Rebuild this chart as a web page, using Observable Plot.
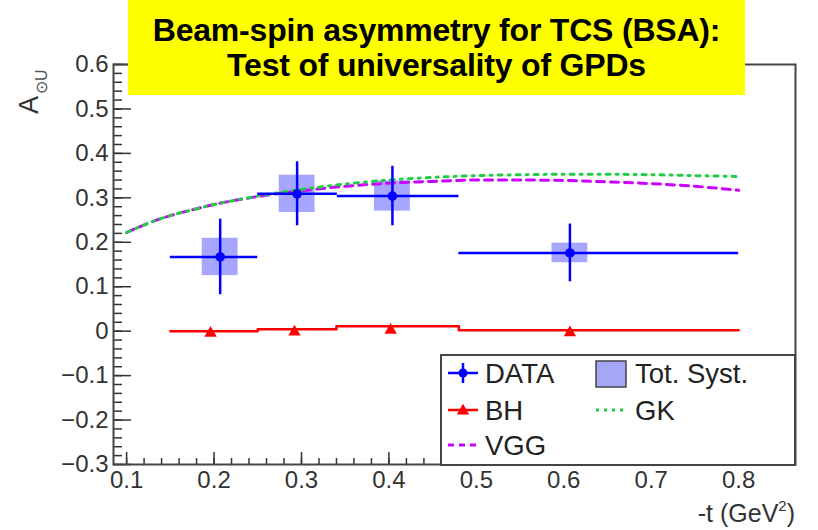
<!DOCTYPE html>
<html><head><meta charset="utf-8">
<script src="https://cdn.jsdelivr.net/npm/d3@7"></script>
<script src="https://cdn.jsdelivr.net/npm/@observablehq/plot@0.6"></script>
<style>
body{margin:0;background:#fff;font-family:"Liberation Sans",Arial,sans-serif;}
#wrap{position:relative;width:818px;height:530px;overflow:hidden;}
#title{position:absolute;left:128px;top:0;width:617px;height:95px;background:#ffff00;
 font-weight:bold;font-size:32px;line-height:35px;text-align:center;color:#000;box-sizing:border-box;padding-top:13px;letter-spacing:-0.2px;}
</style></head><body>
<div id="wrap"><div id="chart"></div>
<div id="title">Beam-spin asymmetry for TCS (BSA):<br>Test of universality of GPDs</div></div>
<script>
// ---- data ----
const tCenter = [0.207, 0.295, 0.404, 0.607];
const tLow    = [0.150, 0.250, 0.341, 0.480];
const tHigh   = [0.250, 0.341, 0.480, 0.800];
const asym    = [0.167, 0.309, 0.304, 0.176];
const statErr = [0.085, 0.072, 0.067, 0.065];
const systErr = [0.042, 0.042, 0.034, 0.022];

const bhT      = [0.196, 0.292, 0.402, 0.607];
const bhMarker = [0.000, 0.003, 0.007, 0.001];
const bhBinLow = [0.150, 0.250, 0.340, 0.480];
const bhBinHigh= [0.250, 0.340, 0.480, 0.800];
const bhBin    = [0.000, 0.0045, 0.011, 0.002];

const curveT = [0.10, 0.125, 0.15, 0.175, 0.20, 0.25, 0.30, 0.35, 0.40, 0.45, 0.50, 0.55, 0.60, 0.65, 0.70, 0.75, 0.80];
const vgg    = [0.222, 0.243, 0.260, 0.273, 0.285, 0.303, 0.316, 0.326, 0.333, 0.337, 0.340, 0.340, 0.339, 0.336, 0.332, 0.326, 0.317];
const gk     = [0.222, 0.243, 0.260, 0.273, 0.285, 0.304, 0.319, 0.331, 0.340, 0.346, 0.350, 0.352, 0.353, 0.353, 0.352, 0.350, 0.348];

const xTicks = [0.1, 0.2, 0.3, 0.4, 0.5, 0.6, 0.7, 0.8];
const xTickLabels = ["0.1","0.2","0.3","0.4","0.5","0.6","0.7","0.8"];
const yTicks = [-0.3, -0.2, -0.1, 0, 0.1, 0.2, 0.3, 0.4, 0.5, 0.6];
const yTickLabels = ["\u22120.3","\u22120.2","\u22120.1","0","0.1","0.2","0.3","0.4","0.5","0.6"];
const legendLabels = ["DATA","Tot. Syst.","BH","GK","VGG"];

// ---- layout ----
const FONT = '"Liberation Sans", Arial, sans-serif';
const W = 818, H = 530, mL = 113, mR = 23, mT = 64, mB = 66;
const innerW = W - mL - mR, innerH = H - mT - mB;
const BLUE = "#0000ff", RED = "#ff0000", GREEN = "#22cc44", MAGENTA = "#cc00ff";
const boxHalf = 0.0205;

const idx = d3.range(tCenter.length);
const curve = curveT.map((t, i) => ({t, vgg: vgg[i], gk: gk[i]}));
const bhSteps = [];
bhBin.forEach((v, i) => { bhSteps.push({t: bhBinLow[i], v}); bhSteps.push({t: bhBinHigh[i], v}); });
const xMinor = d3.range(0.1, 0.8601, 0.02);
const yMinor = d3.range(-0.3, 0.6001, 0.02);

const chart = Plot.plot({
  width: W, height: H, marginLeft: mL, marginRight: mR, marginTop: mT, marginBottom: mB,
  x: {domain: [0.085, 0.865]},
  y: {domain: [-0.3, 0.6]},
  style: {fontFamily: FONT, fontSize: "24px", background: "transparent", color: "#333"},
  marks: [
    Plot.rect(idx, {x1: i => tCenter[i] - boxHalf, x2: i => tCenter[i] + boxHalf,
      y1: i => asym[i] - systErr[i], y2: i => asym[i] + systErr[i], fill: BLUE, fillOpacity: 0.35}),
    Plot.line(curve, {x: "t", y: "vgg", stroke: MAGENTA, strokeWidth: 3, strokeDasharray: "8,6", curve: "monotone-x"}),
    Plot.line(curve, {x: "t", y: "gk", stroke: GREEN, strokeWidth: 3, strokeDasharray: "4,6,2,6", curve: "monotone-x"}),
    Plot.line(bhSteps, {x: "t", y: "v", stroke: RED, strokeWidth: 2.5}),
    Plot.dot(idx, {x: i => bhT[i], y: i => bhMarker[i], symbol: "triangle", r: 4.6, fill: RED, dy: 2}),
    Plot.ruleY(idx, {y: i => asym[i], x1: i => tLow[i], x2: i => tHigh[i], stroke: BLUE, strokeWidth: 2.5}),
    Plot.ruleX(idx, {x: i => tCenter[i], y1: i => asym[i] - statErr[i], y2: i => asym[i] + statErr[i], stroke: BLUE, strokeWidth: 2.5}),
    Plot.dot(idx, {x: i => tCenter[i], y: i => asym[i], r: 4.8, fill: BLUE}),
    Plot.tickY(yMinor, {y: d => d, stroke: "#333", strokeWidth: 1.5, insetRight: innerW - 9}),
    Plot.tickY(yTicks, {y: d => d, stroke: "#333", strokeWidth: 1.5, insetRight: innerW - 18}),
    Plot.tickX(xMinor, {x: d => d, stroke: "#333", strokeWidth: 1.5, insetTop: innerH - 6}),
    Plot.tickX(xTicks, {x: d => d, stroke: "#333", strokeWidth: 1.5, insetTop: innerH - 12}),
    Plot.frame({stroke: "#444", strokeWidth: 2}),
    Plot.axisY({ticks: yTicks, tickSize: 0, tickPadding: 5, fontSize: 24, label: null,
      tickFormat: d => yTickLabels[yTicks.indexOf(d)]}),
    Plot.axisX({ticks: xTicks, tickSize: 0, tickPadding: 6, fontSize: 24, label: null,
      tickFormat: d => xTickLabels[xTicks.indexOf(d)]})
  ]
});
document.getElementById("chart").appendChild(chart);

const svg = d3.select(chart);
// y-axis label A_{⊙U}
const yl = svg.append("text").attr("transform", "translate(38,114) rotate(-90)")
  .attr("text-anchor", "start").attr("font-family", FONT).attr("fill", "#333");
yl.append("tspan").attr("font-size", 27).text("A");
yl.append("tspan").attr("font-size", 16).attr("dy", 9).attr("dx", 2).attr("fill", "#555").text("\u2299U");
// x-axis label
const xl = svg.append("text").attr("x", 795).attr("y", 522).attr("text-anchor", "end")
  .attr("font-family", FONT).attr("font-size", 25).attr("fill", "#333");
xl.append("tspan").text("-t (GeV");
xl.append("tspan").attr("font-size", 15).attr("dy", -11).text("2");
xl.append("tspan").attr("dy", 11).text(")");

// legend
const lg = svg.append("g").attr("font-family", FONT).attr("font-size", 27.5).attr("fill", "#222").attr("text-anchor", "start");
lg.append("rect").attr("x", 441).attr("y", 355).attr("width", 354).attr("height", 110)
  .attr("fill", "#fff").attr("stroke", "#444").attr("stroke-width", 2);
const rows = [373, 410, 445];
// DATA
lg.append("line").attr("x1", 448).attr("x2", 478).attr("y1", rows[0]).attr("y2", rows[0]).attr("stroke", BLUE).attr("stroke-width", 2.5);
lg.append("line").attr("x1", 463).attr("x2", 463).attr("y1", rows[0] - 10).attr("y2", rows[0] + 10).attr("stroke", BLUE).attr("stroke-width", 2.5);
lg.append("circle").attr("cx", 463).attr("cy", rows[0]).attr("r", 4.5).attr("fill", BLUE);
lg.append("text").attr("x", 485).attr("y", rows[0] + 10).text(legendLabels[0]);
// Tot. Syst.
lg.append("rect").attr("x", 596).attr("y", rows[0] - 12).attr("width", 30).attr("height", 26)
  .attr("fill", "#a6a6f6").attr("stroke", "#444").attr("stroke-width", 1.5);
lg.append("text").attr("x", 635).attr("y", rows[0] + 10).text(legendLabels[1]);
// BH
lg.append("line").attr("x1", 448).attr("x2", 478).attr("y1", rows[1]).attr("y2", rows[1]).attr("stroke", RED).attr("stroke-width", 2.5);
lg.append("path").attr("d", d3.symbol(d3.symbolTriangle, Math.PI * 4.6 * 4.6)()).attr("transform", `translate(463,${rows[1] + 1})`).attr("fill", RED);
lg.append("text").attr("x", 485).attr("y", rows[1] + 10).text(legendLabels[2]);
// GK
lg.append("line").attr("x1", 596).attr("x2", 626).attr("y1", rows[1]).attr("y2", rows[1]).attr("stroke", GREEN).attr("stroke-width", 3).attr("stroke-dasharray", "3,5");
lg.append("text").attr("x", 635).attr("y", rows[1] + 10).text(legendLabels[3]);
// VGG
lg.append("line").attr("x1", 448).attr("x2", 478).attr("y1", rows[2]).attr("y2", rows[2]).attr("stroke", MAGENTA).attr("stroke-width", 3).attr("stroke-dasharray", "6,5");
lg.append("text").attr("x", 485).attr("y", rows[2] + 10).text(legendLabels[4]);
</script>
</body></html>
